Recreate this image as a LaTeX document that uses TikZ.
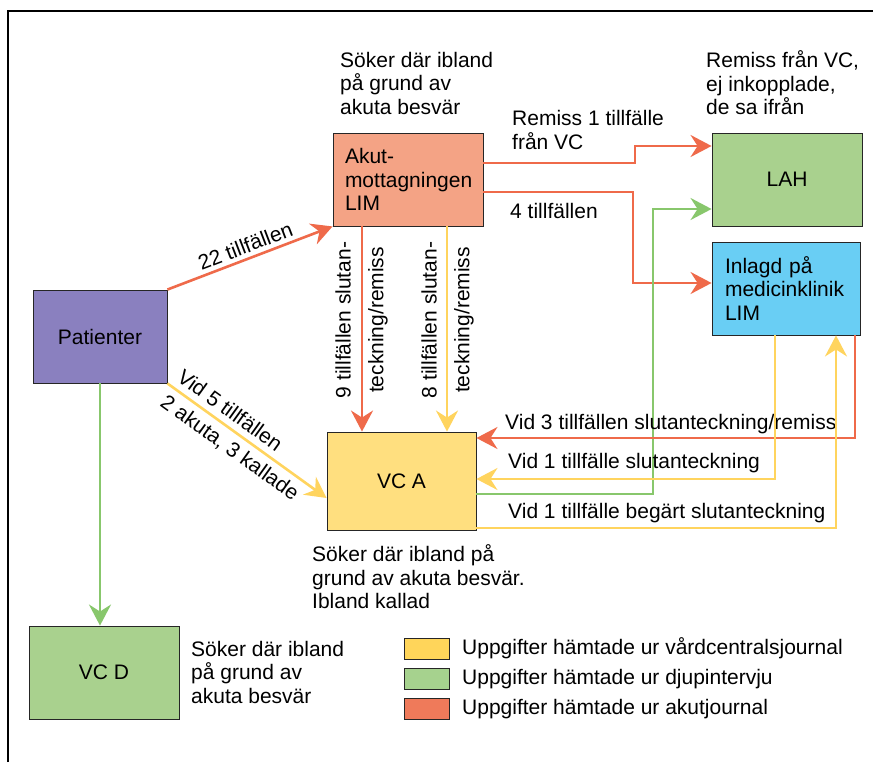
\documentclass[tikz,border=0pt]{standalone}
\usepackage{fontspec}
\setmainfont{Liberation Sans}
\usetikzlibrary{arrows.meta}
\definecolor{akutfill}{HTML}{F4A385}
\definecolor{lahgreen}{HTML}{A9D18E}
\definecolor{inlblue}{HTML}{69CEF4}
\definecolor{vcayellow}{HTML}{FFDF7F}
\definecolor{patpurple}{HTML}{8A80BF}
\definecolor{redline}{HTML}{EF6A4A}
\definecolor{yellowline}{HTML}{FFD45E}
\definecolor{greenline}{HTML}{88C76C}
\definecolor{legyellow}{HTML}{FFD55A}
\definecolor{leggreen}{HTML}{A6D28E}
\definecolor{legred}{HTML}{EF7A5A}
\tikzset{
  every node/.style={font=\fontsize{21}{23.5}\selectfont, text=black},
  box/.style={draw=black!85, line width=0.9pt, inner sep=0pt},
  txt/.style={inner sep=0pt, align=left, anchor=west},
  conn/.style={line width=2.6pt, -{Stealth[length=21pt,width=22pt,inset=7pt]}},
  redc/.style={conn, draw=redline},
  yelc/.style={conn, draw=yellowline},
  grnc/.style={conn, draw=greenline},
  legbox/.style={draw=black!85, line width=0.9pt, minimum width=45pt, minimum height=21pt, inner sep=0pt}
}
\begin{document}
\begin{tikzpicture}[x=1pt,y=-1pt]
\useasboundingbox (0,0) rectangle (874,762);
\fill[white] (0,0) rectangle (874,762);
\draw[line width=1.5pt] (8,762) -- (8,11) -- (873,11);

% boxes
\node[box, fill=akutfill, minimum width=150pt, minimum height=93pt, text width=126pt, align=left] (akut) at (408,179.5) {Akut-\\mottagningen\\LIM};
\node[box, fill=lahgreen, minimum width=150pt, minimum height=93pt] (lah) at (787,179.5) {LAH};
\node[box, fill=inlblue, minimum width=148pt, minimum height=93pt, text width=122pt, align=left] (inl) at (786,288.5) {Inlagd på\\medicinklinik\\LIM};
\node[box, fill=vcayellow, minimum width=149pt, minimum height=98pt] (vca) at (401.5,481) {VC A};
\node[box, fill=patpurple, minimum width=134pt, minimum height=93pt] (pat) at (100,336.5) {Patienter};
\node[box, fill=lahgreen, minimum width=150pt, minimum height=93pt] (vcd) at (104,672.5) {VC D};

% free texts
\node[txt] (t1) at (340,83) {Söker där ibland\\på grund av\\akuta besvär};
\node[txt] (t2) at (706,83) {Remiss från VC,\\ej inkopplade,\\de sa ifrån};
\node[txt] (t3) at (312,577) {Söker där ibland på\\grund av akuta besvär.\\Ibland kallad};
\node[txt] (t4) at (191,672) {Söker där ibland\\på grund av\\akuta besvär};

% connectors
\draw[redc] (pat.north east) -- node[pos=0.5, above=4pt, sloped, inner sep=0pt] {22 tillfällen} (akut.south west);
\draw[yelc] (pat.south east) -- node[pos=0.34, above=6pt, sloped, inner sep=0pt] {Vid 5 tillfällen}
  node[pos=0.45, below=6pt, sloped, inner sep=0pt] {2 akuta, 3 kallade} (vca.west |- 0,498);
\draw[grnc] (pat.south) -- (vcd.north -| pat.south);

\draw[redc] (akut.south -| 362,0) -- (vca.north -| 362,0);
\draw[yelc] (akut.south -| 447,0) -- (vca.north -| 447,0);
\node[rotate=90, inner sep=0pt] (l9a) at (343,320) {9 tillfällen slutan-};
\node[rotate=90, inner sep=0pt] (l9b) at (378,320) {teckning/remiss};
\node[rotate=90, inner sep=0pt] (l8a) at (429,320) {8 tillfällen slutan-};
\node[rotate=90, inner sep=0pt] (l8b) at (464,320) {teckning/remiss};

\draw[redc] (akut.east |- 0,163) -- (635,163) -- (635,146) -- (lah.west |- 0,146);
\node[txt] (r1) at (512,130) {Remiss 1 tillfälle\\från VC};
\draw[redc] (akut.east |- 0,192) -- (633,192) -- (633,283) -- (inl.west |- 0,283);
\node[txt] (r4) at (510,211) {4 tillfällen};

\draw[grnc] (vca.east |- 0,494) -- (653,494) -- (653,209) -- (lah.west |- 0,209);

\draw[redc] (inl.south -| 855,0) -- (855,438) -- (vca.east |- 0,438);
\node[txt] (v3) at (505,424) {Vid 3 tillfällen slutanteckning/remiss};
\draw[yelc] (inl.south -| 775,0) -- (775,479) -- (vca.east |- 0,479);
\node[txt] (v1) at (508,463) {Vid 1 tillfälle slutanteckning};
\draw[yelc] (vca.east |- 0,528) -- (836,528) -- (inl.south -| 836,0);
\node[txt] (v1b) at (508,513) {Vid 1 tillfälle begärt slutanteckning};

% legend
\node[legbox, fill=legyellow] (ly) at (426.5,648.5) {};
\node[legbox, fill=leggreen] (lg) at (426.5,678.5) {};
\node[legbox, fill=legred] (lr) at (426.5,708.5) {};
\node[txt] (lyt) at (462,648) {Uppgifter hämtade ur vårdcentralsjournal};
\node[txt] (lgt) at (462,679) {Uppgifter hämtade ur djupintervju};
\node[txt] (lrt) at (462,709) {Uppgifter hämtade ur akutjournal};
\end{tikzpicture}
\end{document}
